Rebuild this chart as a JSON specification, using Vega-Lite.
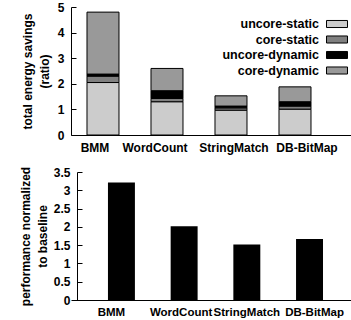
{
  "$schema": "https://vega.github.io/schema/vega-lite/v6.json",
  "padding": {"left": 19, "top": 1, "right": 0, "bottom": 0},
  "spacing": 13,
  "config": {
    "view": {"stroke": null},
    "font": "Liberation Sans",
    "axis": {
      "labelFont": "Liberation Sans", "labelFontWeight": "bold", "labelFontSize": 12, "labelColor": "black",
      "titleFont": "Liberation Sans", "titleFontWeight": "bold", "titleFontSize": 12, "titleColor": "black",
      "domainColor": "black", "tickColor": "black", "grid": false, "labelOverlap": false, "labelLimit": 200
    }
  },
  "vconcat": [
    {
      "width": 280,
      "height": 128,
      "data": {"values": [
        {"program": "BMM", "part": "uncore-static", "k": 1, "value": 2.05},
        {"program": "BMM", "part": "core-static", "k": 2, "value": 0.25},
        {"program": "BMM", "part": "uncore-dynamic", "k": 3, "value": 0.08},
        {"program": "BMM", "part": "core-dynamic", "k": 4, "value": 2.42},
        {"program": "WordCount", "part": "uncore-static", "k": 1, "value": 1.30},
        {"program": "WordCount", "part": "core-static", "k": 2, "value": 0.13},
        {"program": "WordCount", "part": "uncore-dynamic", "k": 3, "value": 0.30},
        {"program": "WordCount", "part": "core-dynamic", "k": 4, "value": 0.87},
        {"program": "StringMatch", "part": "uncore-static", "k": 1, "value": 0.97},
        {"program": "StringMatch", "part": "core-static", "k": 2, "value": 0.09},
        {"program": "StringMatch", "part": "uncore-dynamic", "k": 3, "value": 0.07},
        {"program": "StringMatch", "part": "core-dynamic", "k": 4, "value": 0.40},
        {"program": "DB-BitMap", "part": "uncore-static", "k": 1, "value": 1.01},
        {"program": "DB-BitMap", "part": "core-static", "k": 2, "value": 0.12},
        {"program": "DB-BitMap", "part": "uncore-dynamic", "k": 3, "value": 0.17},
        {"program": "DB-BitMap", "part": "core-dynamic", "k": 4, "value": 0.58}
      ]},
      "mark": {"type": "bar", "stroke": "black", "strokeWidth": 1},
      "encoding": {
        "x": {
          "field": "program", "type": "nominal",
          "sort": ["BMM", "WordCount", "StringMatch", "DB-BitMap"],
          "scale": {"paddingInner": 0.5, "paddingOuter": 0.4375, "align": 0.2857},
          "axis": {
            "title": null, "labelAngle": 0, "ticks": false, "labelPadding": 7,
            "labelOffset": {"condition": [
              {"test": "datum.value === 'BMM'", "value": -8},
              {"test": "datum.value === 'WordCount'", "value": -12},
              {"test": "datum.value === 'StringMatch'", "value": 3}
            ], "value": 12}
          }
        },
        "y": {
          "field": "value", "type": "quantitative", "stack": "zero",
          "scale": {"domain": [0, 5], "nice": false},
          "axis": {
            "title": ["total energy savings", "(ratio)"], "titleLineHeight": 17,
            "values": [0, 1, 2, 3, 4, 5], "tickSize": -5, "labelPadding": 12, "titlePadding": 6
          }
        },
        "color": {
          "field": "part", "type": "nominal",
          "scale": {
            "domain": ["uncore-static", "core-static", "uncore-dynamic", "core-dynamic"],
            "range": ["#cccccc", "#808080", "#000000", "#999999"]
          },
          "legend": {
            "title": null, "orient": "none", "legendX": 258, "legendY": 9, "padding": 0,
            "symbolType": "M-1.4,-0.47H1.4V0.47H-1.4Z", "symbolSize": 225,
            "symbolStrokeColor": "black", "symbolStrokeWidth": 1, "symbolOpacity": 1,
            "labelAlign": "right", "labelOffset": -26, "rowPadding": 0.5, "labelLimit": 200,
            "labelFont": "Liberation Sans", "labelFontWeight": "bold", "labelFontSize": 12.5, "labelColor": "black"
          }
        },
        "order": {"field": "k", "type": "quantitative"}
      }
    },
    {
      "width": 280,
      "height": 128,
      "data": {"values": [
        {"program": "BMM", "perf": 3.21},
        {"program": "WordCount", "perf": 2.02},
        {"program": "StringMatch", "perf": 1.52},
        {"program": "DB-BitMap", "perf": 1.67}
      ]},
      "mark": {"type": "bar", "color": "black"},
      "encoding": {
        "x": {
          "field": "program", "type": "nominal",
          "sort": ["BMM", "WordCount", "StringMatch", "DB-BitMap"],
          "scale": {"paddingInner": 0.57, "paddingOuter": 0.518, "align": 0.569},
          "axis": {
            "title": null, "labelAngle": 0, "ticks": false, "labelPadding": 6, "labelFontSize": 11.5,
            "labelOffset": {"condition": [
              {"test": "datum.value === 'BMM'", "value": -10},
              {"test": "datum.value === 'WordCount'", "value": -3},
              {"test": "datum.value === 'StringMatch'", "value": 0}
            ], "value": 5}
          }
        },
        "y": {
          "field": "perf", "type": "quantitative",
          "scale": {"domain": [0, 3.5], "nice": false},
          "axis": {
            "title": ["performance normalized", "to baseline"], "titleLineHeight": 17,
            "values": [0, 0.5, 1, 1.5, 2, 2.5, 3, 3.5], "format": "~g", "offset": -6,
            "tickSize": -5, "labelPadding": 12, "titlePadding": 4
          }
        }
      }
    }
  ]
}
